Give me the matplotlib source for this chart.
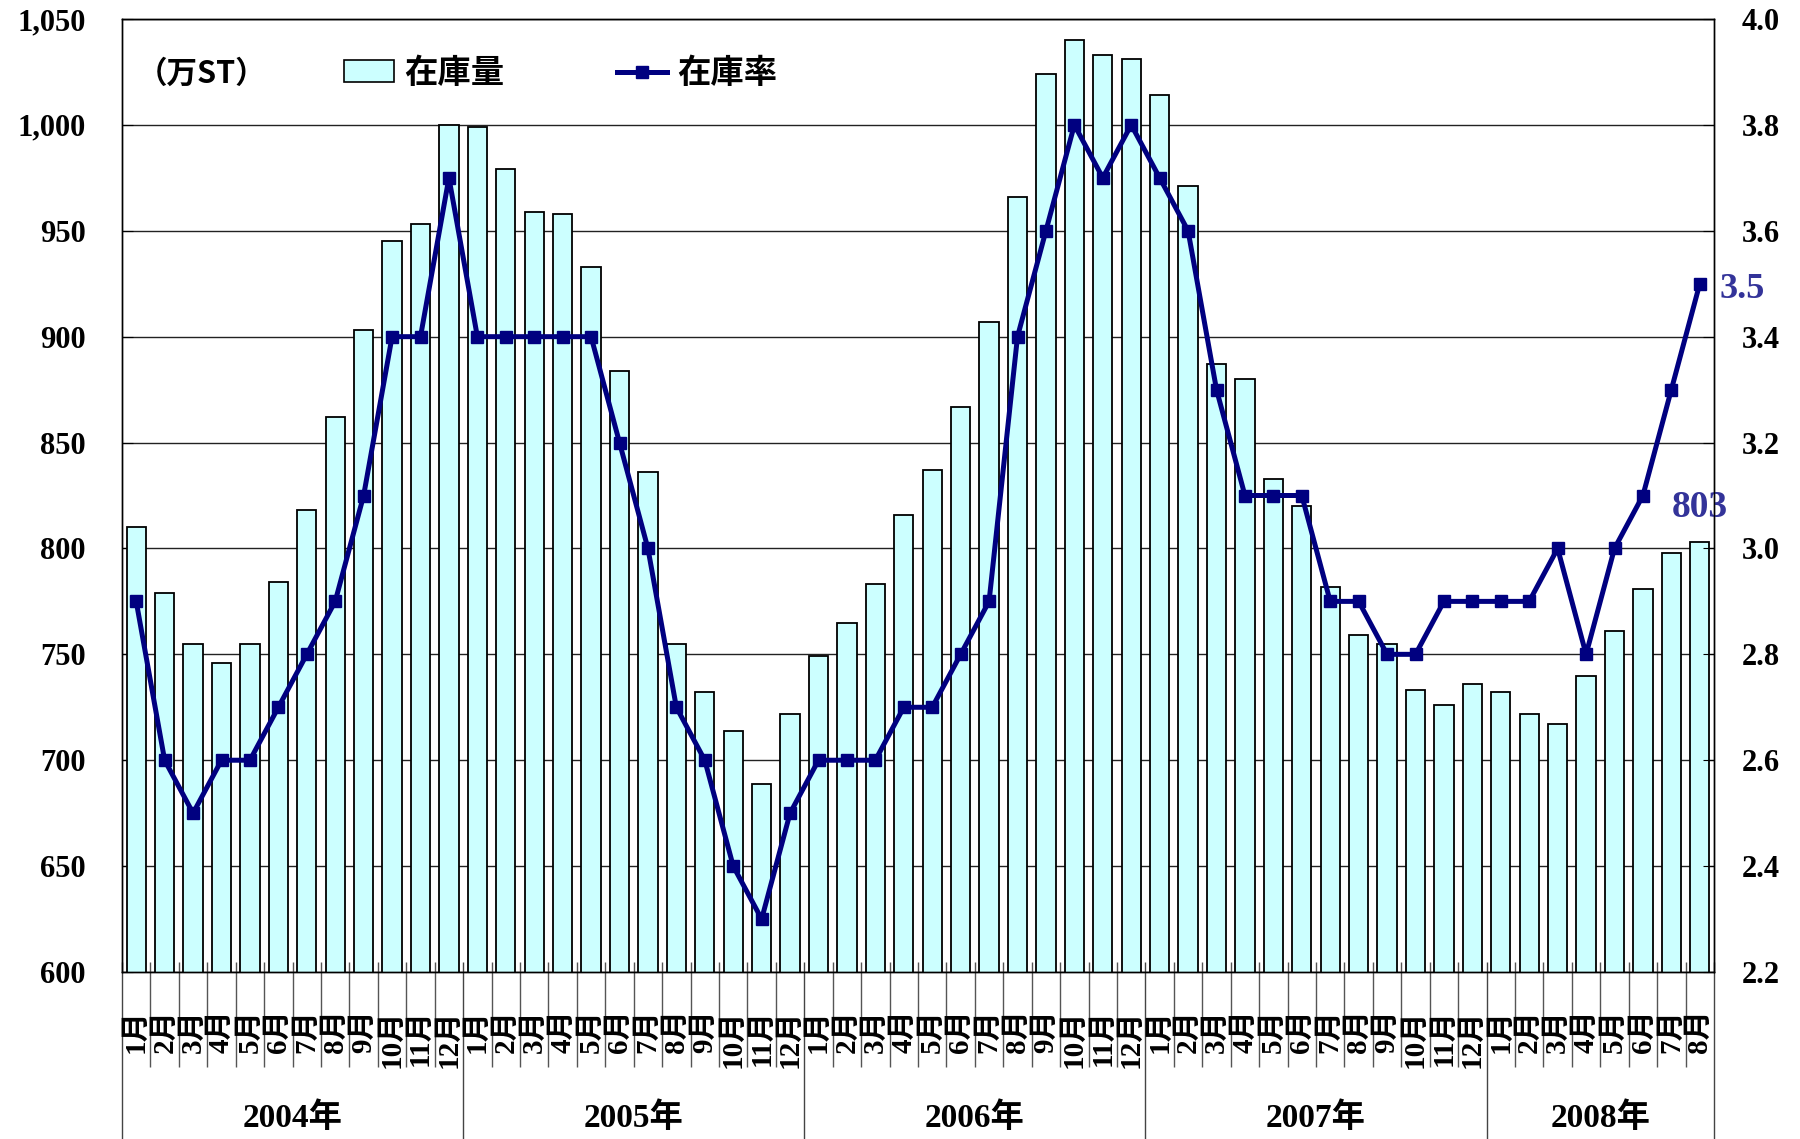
import matplotlib
matplotlib.use('Agg')
import matplotlib.pyplot as plt
from matplotlib.lines import Line2D
from matplotlib.patches import Patch

# data
years = ['2004年', '2005年', '2006年', '2007年', '2008年']
months_per_year = [12, 12, 12, 12, 8]
month_labels = [f'{m}月' for n in months_per_year for m in range(1, n + 1)]

# 在庫量 (万ST)
stock = [810, 779, 755, 746, 755, 784, 818, 862, 903, 945, 953, 1000,
         999, 979, 959, 958, 933, 884, 836, 755, 732, 714, 689, 722,
         749, 765, 783, 816, 837, 867, 907, 966, 1024, 1040, 1033, 1031,
         1014, 971, 887, 880, 833, 820, 782, 759, 755, 733, 726, 736,
         732, 722, 717, 740, 761, 781, 798, 803]

# 在庫率
ratio = [2.9, 2.6, 2.5, 2.6, 2.6, 2.7, 2.8, 2.9, 3.1, 3.4, 3.4, 3.7,
         3.4, 3.4, 3.4, 3.4, 3.4, 3.2, 3.0, 2.7, 2.6, 2.4, 2.3, 2.5,
         2.6, 2.6, 2.6, 2.7, 2.7, 2.8, 2.9, 3.4, 3.6, 3.8, 3.7, 3.8,
         3.7, 3.6, 3.3, 3.1, 3.1, 3.1, 2.9, 2.9, 2.8, 2.8, 2.9, 2.9,
         2.9, 2.9, 3.0, 2.8, 3.0, 3.1, 3.3, 3.5]

left_ticks = [600, 650, 700, 750, 800, 850, 900, 950, 1000, 1050]
right_ticks = [2.2, 2.4, 2.6, 2.8, 3.0, 3.2, 3.4, 3.6, 3.8, 4.0]

serif = ['Liberation Serif', 'Noto Sans CJK JP']
sans = ['Noto Sans CJK JP', 'DejaVu Sans']
plt.rcParams['font.family'] = serif
plt.rcParams['font.weight'] = 'bold'

bar_color = '#CCFFFF'
line_color = '#000080'
label_color = '#333399'

W, H = 1800, 1139
fig = plt.figure(figsize=(W / 100, H / 100), dpi=100)
ax = fig.add_axes([122 / W, 1 - 972 / H, (1714 - 122) / W, (972 - 19) / H])

x = list(range(len(stock)))
ax.bar(x, stock, width=0.68, color=bar_color, edgecolor='black', linewidth=1.3)
ax.set_xlim(-0.5, len(stock) - 0.5)
ax.set_ylim(600, 1050)
ax.set_yticks(left_ticks)
ax.set_yticklabels([f'{v:,}' for v in left_ticks])
ax.set_xticks([])
ax.yaxis.grid(True, color='#222222', linewidth=1)
ax.set_axisbelow(True)
ax.tick_params(axis='y', direction='in', length=8, pad=26, labelsize=22)

# category axis: month separators, month labels, year groups
tr = ax.get_xaxis_transform()
year_bounds = [-0.5]
for n in months_per_year:
    year_bounds.append(year_bounds[-1] + n)
month_bounds = [b + 0.5 for b in range(len(stock) - 1)
                if b + 0.5 not in year_bounds]
ax.vlines(month_bounds, 0.0105, -0.0997, transform=tr, clip_on=False,
          color='#555555', linewidth=1)
ax.vlines(year_bounds, 0.0105, -0.176, transform=tr, clip_on=False,
          color='#444444', linewidth=1)
for i, lab in enumerate(month_labels):
    ax.text(i, -0.039, lab, transform=tr, rotation=90, ha='center', va='top',
            fontsize=21, fontweight='bold', family=serif)
for k, yr in enumerate(years):
    mid = (year_bounds[k] + year_bounds[k + 1]) / 2
    ax.text(mid, -0.153, yr, transform=tr, ha='center', va='center',
            fontsize=24, fontweight='bold', family=serif)

ax2 = ax.twinx()
ax2.plot(x, ratio, color=line_color, linewidth=3.6, marker='s', markersize=8)
ax2.set_ylim(2.2, 4.0)
ax2.set_yticks(right_ticks)
ax2.set_yticklabels([f'{v:.1f}' for v in right_ticks])
ax2.tick_params(axis='y', direction='in', length=8, pad=20, labelsize=22)

for a in (ax, ax2):
    for sp in a.spines.values():
        sp.set_color('black')
        sp.set_linewidth(1)

# labels for latest month
ax2.annotate('3.5', xy=(x[-1], ratio[-1]), xytext=(14, -4),
             textcoords='offset points', ha='left', va='center',
             fontsize=26, fontweight='bold', color=label_color, family=serif)
ax.annotate(f'{stock[-1]}', xy=(x[-1], stock[-1]), xytext=(0, 25),
            textcoords='offset points', ha='center', va='center',
            fontsize=27, fontweight='bold', color=label_color, family=serif)

# legend
ax.text(0.0095, 0.943, '（万ST）', transform=ax.transAxes, ha='left',
        va='center', fontsize=22, fontweight='bold', family=sans)
handles = [Patch(facecolor=bar_color, edgecolor='black', linewidth=1.2),
           Line2D([], [], color=line_color, linewidth=3.6, marker='s',
                  markersize=8)]
ax2.legend(handles, ['在庫量', '在庫率'], ncol=2, loc='center left',
           bbox_to_anchor=(0.1394, 0.943), frameon=False,
           prop={'family': sans, 'size': 24, 'weight': 'bold'},
           handlelength=1.5, handleheight=0.6, handletextpad=0.3,
           columnspacing=3.4, borderpad=0, borderaxespad=0)

fig.savefig('out.png', dpi=100)
